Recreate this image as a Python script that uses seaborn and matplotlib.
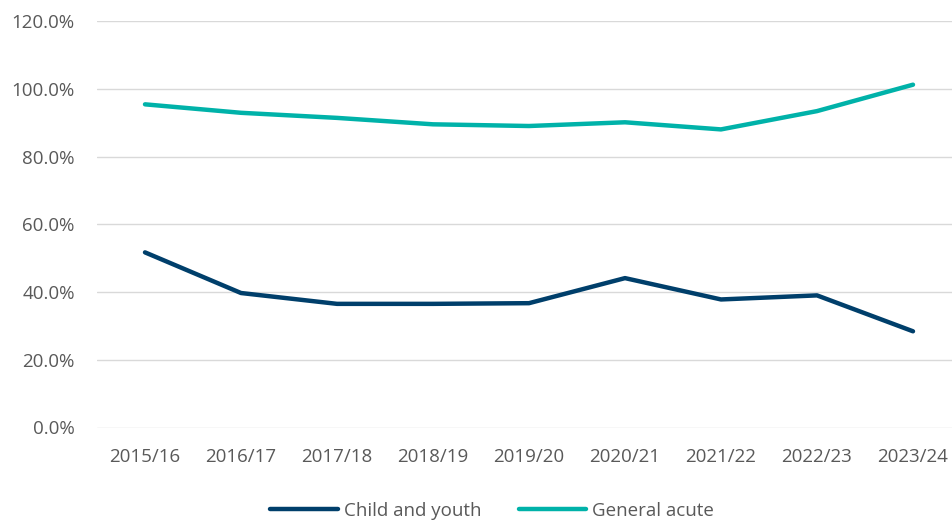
import matplotlib
matplotlib.use("Agg")
import matplotlib.pyplot as plt
import seaborn as sns
import pandas as pd
from matplotlib.ticker import PercentFormatter

years = ["2015/16", "2016/17", "2017/18", "2018/19", "2019/20",
         "2020/21", "2021/22", "2022/23", "2023/24"]
child_and_youth = [51.7, 39.7, 36.5, 36.5, 36.7, 44.1, 37.8, 39.0, 28.4]
general_acute = [95.4, 92.9, 91.4, 89.5, 89.0, 90.1, 88.0, 93.4, 101.2]
series_names = ["Child and youth", "General acute"]
colors = ["#003F6B", "#00B2A9"]

df = pd.DataFrame({
    "Year": years * 2,
    "Rate": child_and_youth + general_acute,
    "Series": [series_names[0]] * len(years) + [series_names[1]] * len(years),
})
df["pos"] = df["Year"].map({y: i for i, y in enumerate(years)})

sns.set_theme(style="white")
plt.rcParams["font.family"] = ["Open Sans", "DejaVu Sans"]

fig = plt.figure(figsize=(9.53, 5.25), dpi=100)
ax = fig.add_axes([97 / 953, 1 - 427.5 / 525, 864 / 953, 406.5 / 525])

sns.lineplot(data=df, x="pos", y="Rate", hue="Series", hue_order=series_names,
             palette=colors, linewidth=3.2, ax=ax, legend=False,
             solid_capstyle="round")

ax.set_xlim(-0.5, len(years) - 0.5)
ax.set_ylim(0, 120)
ax.set_yticks(range(0, 121, 20))
ax.yaxis.set_major_formatter(PercentFormatter(decimals=1))
ax.set_xticks(range(len(years)))
ax.set_xticklabels(years)
ax.grid(axis="y", color="#D9D9D9", linewidth=1.0)
ax.grid(axis="x", visible=False)
for s in ax.spines.values():
    s.set_visible(False)
ax.set_xlabel("")
ax.set_ylabel("")
ax.tick_params(axis="both", length=0, labelsize=13.5, colors="#595959")
ax.tick_params(axis="x", pad=15)
ax.tick_params(axis="y", pad=16)

handles = [plt.Line2D([0], [0], color=c, lw=3.2, solid_capstyle="round")
           for c in colors]
fig.legend(handles, series_names, loc="center", bbox_to_anchor=(492 / 953, 1 - 511 / 525),
           ncol=2, frameon=False, fontsize=13.5, labelcolor="#595959",
           handlelength=3.6, handletextpad=0.3, columnspacing=2.0)

fig.savefig("out.png", dpi=100)
